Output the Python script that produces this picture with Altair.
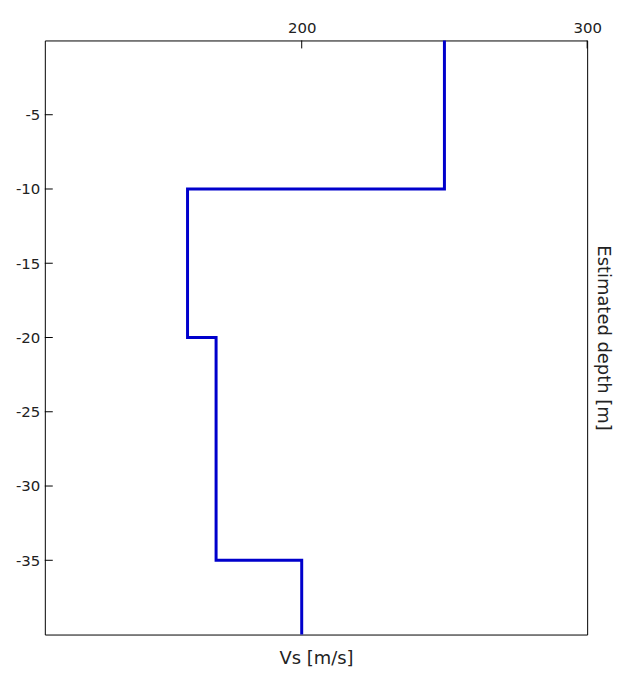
import altair as alt
import pandas as pd

# Layered Vs profile
layer_top = [0, -10, -20, -35]
layer_bottom = [-10, -20, -35, -40]
vs_values = [250, 160, 170, 200]

x_ticks = [200, 300]
y_ticks = [-5, -10, -15, -20, -25, -30, -35]

rows = []
k = 0
for t, b, v in zip(layer_top, layer_bottom, vs_values):
    rows.append({"vs": v, "depth": t, "order": k}); k += 1
    rows.append({"vs": v, "depth": b, "order": k}); k += 1
profile = pd.DataFrame(rows)
xt = pd.DataFrame({"vs": x_ticks})
yt = pd.DataFrame({"depth": y_ticks})

FONT = "DejaVu Sans"
HYPHEN = "replace(datum.label, '\u2212', '-')"
xscale = alt.Scale(domain=[110, 300], nice=False, zero=False)
yscale = alt.Scale(domain=[-40, 0], nice=False, zero=False)

line = alt.Chart(profile).mark_line(color="#0000cc", strokeWidth=3).encode(
    x=alt.X("vs:Q", scale=xscale,
            axis=alt.Axis(orient="top", values=x_ticks, title=None, ticks=False,
                          domain=False, grid=False, labelPadding=5, labelFlush=False,
                          format="d")),
    y=alt.Y("depth:Q", scale=yscale,
            axis=alt.Axis(orient="left", values=y_ticks, title=None, ticks=False,
                          domain=False, grid=False, labelPadding=5, labelExpr=HYPHEN)),
    order="order:O",
)

xtick_marks = alt.Chart(xt).mark_rule(color="black", strokeWidth=1).encode(
    x=alt.X("vs:Q", scale=xscale,
            axis=alt.Axis(orient="bottom", labels=False, ticks=False, domain=False,
                          grid=False, title="Vs [m/s]", titlePadding=15)),
    y=alt.value(0),
    y2=alt.value(8),
)

ytick_marks = alt.Chart(yt).mark_rule(color="black", strokeWidth=1).encode(
    y=alt.Y("depth:Q", scale=yscale,
            axis=alt.Axis(orient="right", labels=False, ticks=False, domain=False,
                          grid=False, title="Estimated depth [m]", titlePadding=6,
                          titleAngle=90)),
    x=alt.value(0),
    x2=alt.value(8),
)

chart = alt.layer(line, xtick_marks, ytick_marks).resolve_axis(
    x="independent", y="independent"
).properties(
    width=545,
    height=597,
    padding={"left": 37, "top": 31, "right": 31, "bottom": 33},
    autosize=alt.AutoSizeParams(type="none"),
    background="white",
).configure_view(
    stroke="black", strokeWidth=1
).configure_axis(
    labelFont=FONT, labelFontSize=15, labelColor="#222",
    titleFont=FONT, titleFontSize=18, titleFontWeight="normal", titleColor="#222",
)

chart.save("out.html", embed_options={"renderer": "svg", "actions": False})
